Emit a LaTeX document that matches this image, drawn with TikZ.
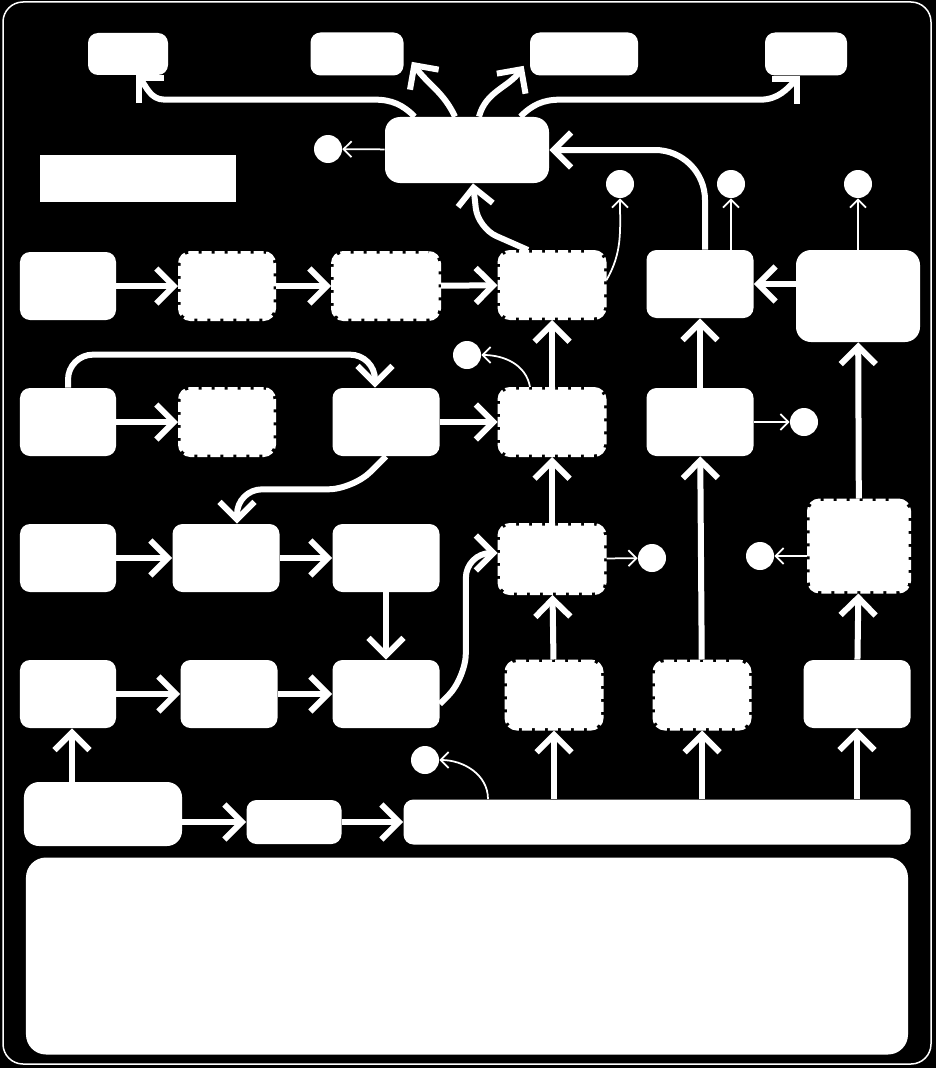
\documentclass[tikz,border=0pt]{standalone}
\usepackage{tikz}
\usetikzlibrary{
  arrows.meta
}
\colorlet{paper}{black}
\colorlet{ink}{white}
\tikzset{
  stage/.style={fill=ink,rounded corners=2mm,inner sep=0pt,
    minimum width=19.2mm,minimum height=13.6mm},
  busy stage/.style={stage,draw=ink,line width=1mm,
    dash pattern=on 2mm off 0.6mm,
    minimum width=18.6mm,minimum height=13mm},
  flow/.style={draw=ink,line width=1.2mm,
    -{Straight Barb[length=3.5mm,width=7mm]}},
  tap/.style={draw=ink,line width=0.35mm,
    -{Straight Barb[length=1.6mm,width=3.2mm]}},
}

\begin{document}
\begin{tikzpicture}[
  x=0.2mm,y=0.2mm,
  sink/.style={circle,fill=ink,inner sep=0pt,minimum size=5.6mm},
]
\fill[paper] (0,0) rectangle (936,-1068);
\useasboundingbox (0,0) rectangle (936,-1068);
\draw[ink,line width=0.3mm,rounded corners=4mm] (3,-2) rectangle (931,-1064);

\node[stage,minimum width=16mm,minimum height=8.4mm] (out-a) at (128,-54) {};
\node[stage,minimum width=18.6mm,minimum height=8.6mm] (out-b) at (357,-54) {};
\node[stage,minimum width=21.6mm,minimum height=8.6mm] (out-c) at (584,-54) {};
\node[stage,minimum width=16.4mm,minimum height=8.6mm] (out-d) at (806,-54) {};
\node[stage,rounded corners=3mm,minimum width=32.8mm,minimum height=13.2mm] (hub) at (467,-150) {};
\node[fill=ink,minimum width=39.2mm,minimum height=9.4mm] (legend) at (138,-178) {};

\node[stage] (a1) at (68,-286) {};
\node[busy stage] (a2) at (227,-286) {};
\node[busy stage,minimum width=21mm] (a3) at (386,-286) {};
\node[busy stage,minimum width=20.8mm] (a4) at (552,-285) {};
\node[stage,minimum width=21.4mm] (a5) at (700,-284) {};
\node[stage,rounded corners=3mm,minimum width=24.8mm,minimum height=18.4mm] (a6) at (858,-296) {};

\node[stage] (b1) at (68,-422) {};
\node[busy stage] (b2) at (227,-422) {};
\node[stage,minimum width=21.4mm] (b3) at (386,-422) {};
\node[busy stage,minimum width=20.8mm] (b4) at (552,-422) {};
\node[stage,minimum width=21.4mm] (b5) at (700,-422) {};

\node[stage] (c1) at (68,-558) {};
\node[stage,minimum width=21.4mm] (c2) at (226,-558) {};
\node[stage,minimum width=21.4mm] (c3) at (386,-558) {};
\node[busy stage,minimum width=20.8mm,minimum height=13.4mm] (c4) at (552,-559) {};
\node[busy stage,minimum width=19.8mm,minimum height=18mm] (c6) at (859,-546) {};

\node[stage] (d1) at (68,-694) {};
\node[stage,minimum width=19.4mm] (d2) at (229,-694) {};
\node[stage,minimum width=21.4mm] (d3) at (386,-694) {};
\node[busy stage,minimum width=18.8mm,minimum height=13.2mm] (d4) at (554,-695) {};
\node[busy stage,minimum width=18.8mm,minimum height=13.2mm] (d5) at (702,-695) {};
\node[stage,minimum width=21.4mm] (d6) at (857,-694) {};

\node[stage,rounded corners=3mm,minimum width=31.6mm,minimum height=12.8mm] (e1) at (103,-814) {};
\node[stage,minimum width=19mm,minimum height=8.8mm] (e2) at (294,-822) {};
\node[stage,minimum width=101.4mm,minimum height=9mm] (e3) at (657,-822) {};
\node[stage,rounded corners=4mm,minimum width=176.4mm,minimum height=39.4mm] (notes) at (467,-956) {};

\node[sink] (s-hub) at (328,-149) {};
\node[sink] (s-a4) at (620,-184) {};
\node[sink] (s-a5) at (731,-184) {};
\node[sink] (s-a6) at (858,-184) {};
\node[sink] (s-b4) at (467,-355) {};
\node[sink] (s-b5) at (804,-422) {};
\node[sink] (s-c4) at (652,-558) {};
\node[sink] (s-c6) at (760,-556) {};
\node[sink] (s-e3) at (425,-760) {};

\draw[flow] (a1) edge (a2) (a2) edge (a3) (a3) edge (a4)
  (b1) edge (b2) (b3) edge (b4)
  (c1) edge (c2) (c2) edge (c3) (c3) edge (d3)
  (d1) edge (d2) (d2) edge (d3)
  (d4) edge (c4) (c4) edge (b4) (b4) edge (a4)
  (d5) edge (b5) (b5) edge (a5)
  (d6) edge (c6) (c6) edge (a6)
  (e2) edge (e3);
\draw[flow] (a6.west |- a5) -- (a5);
\draw[flow] (e1.east |- e2) -- (e2);
\draw[flow] ([shift={(4,0)}]d1 |- e1.north) -- ([shift={(4,0)}]d1.south);
\draw[flow] (d4 |- e3.north) -- (d4);
\draw[flow] (d5 |- e3.north) -- (d5);
\draw[flow] (d6 |- e3.north) -- (d6);

\draw[flow,rounded corners=5mm] (b1.north) -- ++(0,33) -| ([shift={(-11,0)}]b3.north);
\draw[flow,rounded corners=5mm] (b3.south) -- ++(-33,-33) -| ([shift={(11,0)}]c2.north);
\draw[flow,rounded corners=5mm] ([shift={(0,-10)}]d3.east) -- ++(26,26) |- ([shift={(0,6)}]c4.west);
\draw[flow,rounded corners=4mm] ([shift={(-24,0)}]a4.north) -- ++(-50,22) -- ([shift={(6,0)}]hub.south);
\draw[flow,rounded corners=10mm] ([shift={(5,0)}]a5.north) |- (hub.east);

\draw[flow] ([shift={(30,0)}]hub.north west) to[out=135,in=0] ++(-40,17)
  -- ++(-210,0) to[out=180,in=-45] ([shift={(8,0)}]out-a.south);
\draw[flow] ([shift={(-12,0)}]hub.north) to[out=115,in=-55] ([shift={(8,14)}]out-b.south east);
\draw[flow] ([shift={(12,0)}]hub.north) to[out=75,in=-125] ([shift={(-6,10)}]out-c.south west);
\draw[flow] ([shift={(-29,0)}]hub.north east) to[out=45,in=180] ++(40,17)
  -- ++(200,0) to[out=0,in=-135] ([shift={(-6,0)}]out-d.south);

\draw[tap] (hub) -- (s-hub);
\draw[tap] ([shift={(0,5)}]a4.east) to[out=60,in=-90] (s-a4);
\draw[tap] (s-a5 |- a5.north) -- (s-a5);
\draw[tap] (a6) -- (s-a6);
\draw[tap] ([shift={(-22,0)}]b4.north) to[out=100,in=0] (s-b4);
\draw[tap] (b5) -- (s-b5);
\draw[tap] (c4) -- (s-c4);
\draw[tap] (c6.west |- s-c6) -- (s-c6);
\draw[tap] ([shift={(-169,0)}]e3.north) to[out=90,in=0] (s-e3);
\end{tikzpicture}
\end{document}
